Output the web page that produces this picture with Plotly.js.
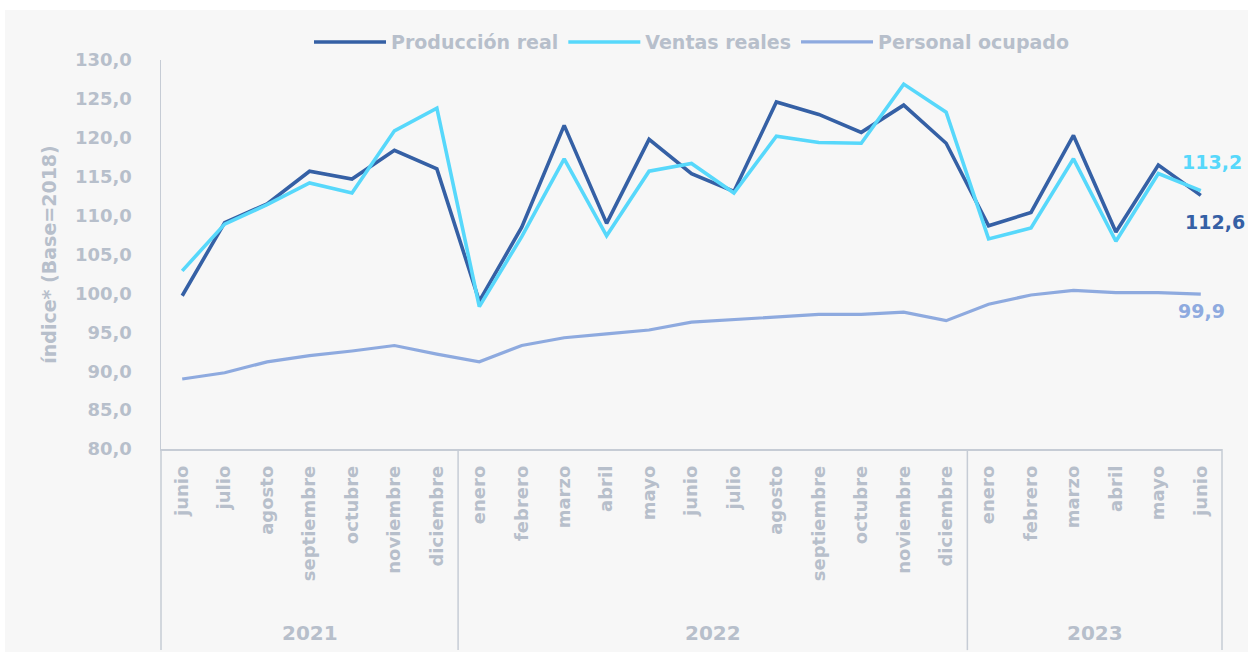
<!DOCTYPE html>
<html>
<head>
<meta charset="utf-8">
<script src="https://cdn.plot.ly/plotly-3.0.1.min.js"></script>
<style>
  html, body { margin: 0; padding: 0; background: #ffffff; width: 1248px; height: 660px; overflow: hidden; }
  #chart { position: absolute; left: 5px; top: 10px; width: 1243px; height: 642px; }
</style>
</head>
<body>
<div id="chart"></div>
<script>
const years = ['2021','2021','2021','2021','2021','2021','2021',
  '2022','2022','2022','2022','2022','2022','2022','2022','2022','2022','2022','2022',
  '2023','2023','2023','2023','2023','2023'];
const months = ['junio','julio','agosto','septiembre','octubre','noviembre','diciembre',
  'enero','febrero','marzo','abril','mayo','junio','julio','agosto','septiembre','octubre','noviembre','diciembre',
  'enero','febrero','marzo','abril','mayo','junio'];

const produccionReal = [99.7, 109.1, 111.5, 115.7, 114.7, 118.4, 116.0,
  99.0, 108.5, 121.6, 109.0, 119.8, 115.4, 113.1, 124.6, 123.0, 120.7, 124.2, 119.3,
  108.7, 110.4, 120.3, 107.9, 116.5, 112.6];
const ventasReales = [102.9, 108.9, 111.4, 114.2, 112.9, 120.9, 123.8,
  98.3, 107.3, 117.3, 107.4, 115.7, 116.7, 112.9, 120.2, 119.4, 119.3, 126.9, 123.3,
  107.0, 108.4, 117.3, 106.7, 115.4, 113.2];
const personalOcupado = [89.0, 89.8, 91.2, 92.0, 92.6, 93.3, 92.2,
  91.2, 93.3, 94.3, 94.8, 95.3, 96.3, 96.6, 97.0, 97.3, 97.3, 97.6, 96.5,
  98.6, 99.8, 100.4, 100.1, 100.1, 99.9];

const seriesNames = ['Producción real', 'Ventas reales', 'Personal ocupado'];
const colors = ['#3560a5', '#57d8fb', '#8eaadf'];
const grey = '#b7bfcb';
const axisGrey = '#c6ccd5';
const FONT = 'DejaVu Sans, Open Sans, sans-serif';

const fmt = v => v.toFixed(1).replace('.', ',');
const last = a => a[a.length - 1];
const keys = months.map((m, i) => years[i] + ' ' + m);
const n = keys.length;

const traces = [produccionReal, ventasReales, personalOcupado].map((vals, i) => ({
  type: 'scatter', mode: 'lines', name: seriesNames[i],
  x: keys, y: vals,
  line: { color: colors[i], width: i === 2 ? 3.2 : 3.6 },
  hoverinfo: 'skip'
}));

// year groups (derived from the years array)
const groups = [];
years.forEach((y, i) => {
  if (!groups.length || groups[groups.length - 1].year !== y) groups.push({ year: y, first: i, last: i });
  else groups[groups.length - 1].last = i;
});
const xr = [-0.5, n - 0.5];
const toPaper = v => (v - xr[0]) / (xr[1] - xr[0]);
const divY = -0.517;   // bottom of divider lines (paper units)
const yearY = -0.473;  // year label centre (paper units)

const shapes = [];
const bounds = [groups[0].first - 0.5].concat(groups.map(g => g.last + 0.5));
bounds.forEach(b => shapes.push({
  type: 'line', xref: 'paper', yref: 'paper',
  x0: toPaper(b), x1: toPaper(b), y0: 0, y1: divY,
  line: { color: axisGrey, width: 1.5 }, layer: 'above'
}));

const annotations = groups.map(g => ({
  x: (g.first + g.last) / 2, xref: 'x', y: yearY, yref: 'paper',
  text: g.year, showarrow: false, yanchor: 'middle',
  font: { family: FONT, size: 20, color: grey, weight: 'bold' }
}));
annotations.push(
  { x: n - 1, y: last(ventasReales), xref: 'x', yref: 'y', text: fmt(last(ventasReales)),
    showarrow: false, xshift: 11, yshift: 29,
    font: { family: FONT, size: 19, color: colors[1], weight: 'bold' } },
  { x: n - 1, y: last(produccionReal), xref: 'x', yref: 'y', text: fmt(last(produccionReal)),
    showarrow: false, xshift: 14, yshift: -27,
    font: { family: FONT, size: 19, color: colors[0], weight: 'bold' } },
  { x: n - 1, y: last(personalOcupado), xref: 'x', yref: 'y', text: fmt(last(personalOcupado)),
    showarrow: false, xshift: 1, yshift: -17,
    font: { family: FONT, size: 19, color: colors[2], weight: 'bold' } }
);

const layout = {
  width: 1243, height: 642,
  paper_bgcolor: '#f7f7f7', plot_bgcolor: '#f7f7f7',
  separators: ',.',
  margin: { l: 156, r: 26, t: 50, b: 203 },
  font: { family: FONT, color: grey },
  showlegend: true,
  legend: {
    orientation: 'h', x: 0.5, xanchor: 'center', y: 1.046, yanchor: 'middle',
    font: { family: FONT, size: 19, color: grey, weight: 'bold' },
    bgcolor: 'rgba(0,0,0,0)', itemwidth: 72
  },
  xaxis: {
    type: 'category',
    range: xr,
    tickmode: 'array', tickvals: keys, ticktext: months,
    tickangle: -90,
    tickfont: { family: FONT, size: 18, color: grey, weight: 'bold' },
    ticklabelstandoff: 8,
    showline: true, linecolor: axisGrey, linewidth: 1.5,
    showgrid: false, zeroline: false, ticks: ''
  },
  yaxis: {
    range: [80, 130], dtick: 5, tick0: 80, tickformat: '.1f',
    tickfont: { family: FONT, size: 18, color: grey, weight: 'bold' },
    showline: true, linecolor: axisGrey, linewidth: 1.5,
    showgrid: false, zeroline: false, ticks: '',
    ticklabelstandoff: 24,
    title: { text: 'índice* (Base=2018)', standoff: 13,
      font: { family: FONT, size: 19, color: grey, weight: 'bold' } }
  },
  shapes: shapes,
  annotations: annotations
};

Plotly.newPlot('chart', traces, layout, { displayModeBar: false, staticPlot: true });
</script>
</body>
</html>
